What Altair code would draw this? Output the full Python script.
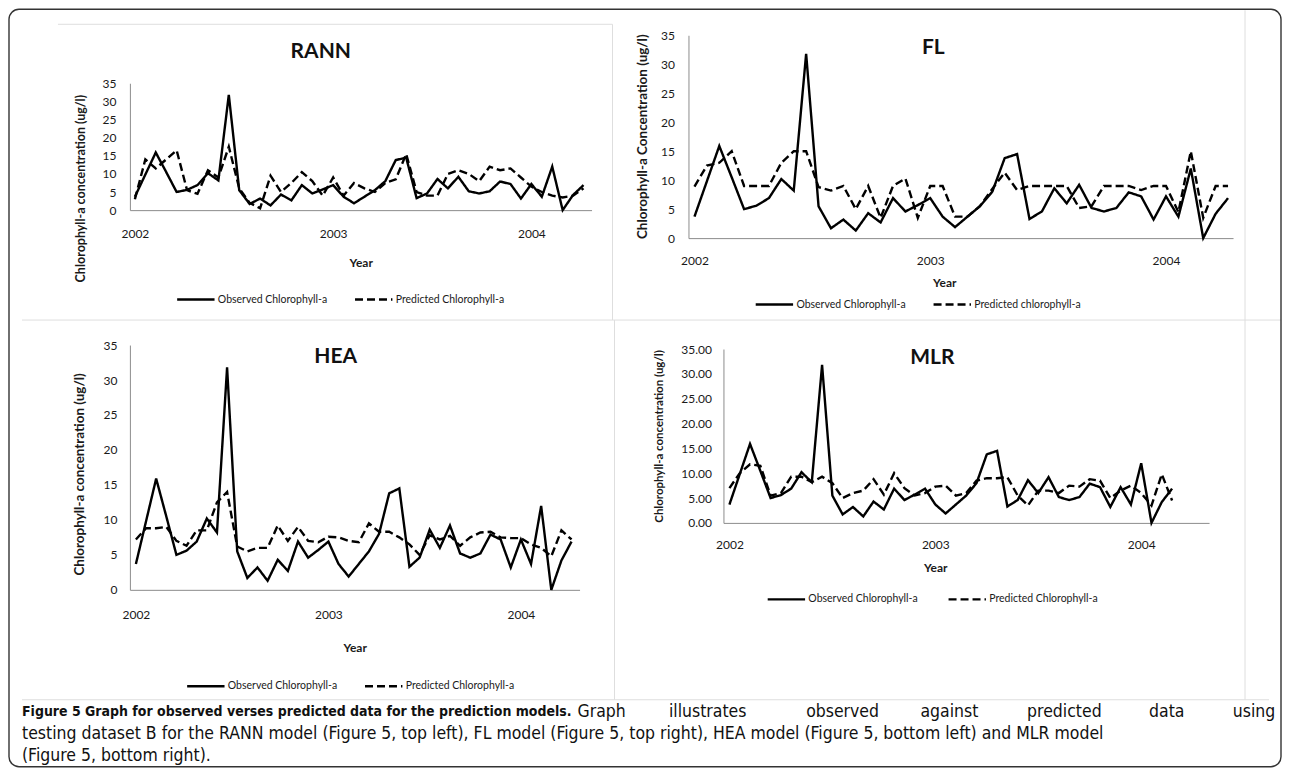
import altair as alt
import pandas as pd

# ---------------- data ----------------
observed = [3.7, 9.8, 15.9, 10.5, 5.0, 5.6, 6.9, 10.2, 8.2, 31.8,
            5.5, 1.7, 3.2, 1.3, 4.3, 2.7, 6.9, 4.6, 5.7, 6.9,
            3.7, 1.9, 3.7, 5.5, 8.0, 13.8, 14.5, 3.3, 4.6, 8.6,
            6.0, 9.2, 5.2, 4.6, 5.2, 7.9, 7.2, 3.2, 7.2, 3.7,
            12.0, 0.0, 4.2, 6.9]

rann_pred = [3.0, 14.0, 11.5, 14.0, 16.5, 5.5, 4.5, 11.0, 9.0, 17.5,
             6.0, 2.0, 0.5, 9.5, 5.0, 7.5, 10.5, 8.0, 4.0, 9.0,
             4.0, 7.5, 6.0, 5.0, 7.5, 8.5, 15.5, 5.0, 4.0, 4.0,
             10.0, 11.0, 10.0, 8.0, 12.0, 11.0, 11.5, 9.0, 6.5, 5.0,
             4.0, 3.5, 4.0, 6.0]

fl_pred = [8.9, 12.5, 13.0, 15.0, 9.0, 9.0, 9.0, 13.0, 15.0, 15.0,
           8.8, 8.2, 9.0, 5.0, 9.0, 3.5, 9.0, 10.3, 3.5, 9.0,
           9.0, 3.7, 3.7, 5.5, 8.5, 11.3, 8.3, 9.0, 9.0, 9.0,
           9.0, 5.2, 5.5, 9.0, 9.0, 9.0, 8.3, 9.0, 9.0, 4.5,
           15.0, 3.5, 9.0, 9.0]

hea_pred = [7.2, 8.8, 8.8, 9.0, 7.0, 6.3, 8.5, 8.5, 12.5, 14.0,
            6.2, 5.5, 6.0, 6.0, 9.2, 7.0, 9.0, 7.0, 6.8, 7.6,
            7.5, 7.0, 6.8, 9.5, 8.3, 8.3, 7.5, 6.5, 5.0, 7.8,
            7.2, 7.7, 6.3, 7.5, 8.2, 8.3, 7.5, 7.4, 7.4, 6.5,
            6.0, 4.8, 8.5, 7.2]

mlr_pred = [7.0, 10.0, 11.8, 11.5, 5.5, 6.0, 9.3, 9.3, 8.2, 9.3,
            8.0, 5.0, 6.0, 6.5, 8.8, 5.7, 10.0, 7.0, 5.5, 6.0,
            7.3, 7.5, 5.5, 6.0, 8.5, 9.0, 9.0, 9.2, 5.5, 3.5,
            6.5, 6.5, 6.0, 7.5, 7.3, 8.8, 8.5, 5.0, 6.5, 7.5,
            6.0, 3.5, 9.8, 4.5]

year_labels = ["2002", "2003", "2004"]
y_ticks = [0, 5, 10, 15, 20, 25, 30, 35]

caption_bold = "Figure 5 Graph for observed verses predicted data for the prediction models."
caption_reg1_words = ["Graph", "illustrates", "observed", "against", "predicted", "data", "using"]
caption_line2 = ("testing dataset B for the RANN model (Figure 5, top left), FL model (Figure 5, top right), "
                 "HEA model (Figure 5, bottom left) and MLR model")
caption_line3 = "(Figure 5, bottom right)."

FONT = "Lato"
CAP_FONT = "Liberation Sans Narrow, DejaVu Sans Condensed, Lato"
INK = "#1a1a1a"
AXIS_GRAY = "#8c8c8c"
SYM = 1400  # legend symbol area -> 37 px wide stroke sample


def panel(p):
    n = len(observed)
    k = list(range(n))
    df = pd.DataFrame({
        "k": k + k,
        "value": observed + p["pred"],
        "series": [p["obs_label"]] * n + [p["pred_label"]] * n,
    })
    ox, oy = p["origin"]
    w, h = p["size"]
    ax = p["axis_x"] - ox
    aend = p["axis_end"] - ox
    k0 = p["k0"] - ox
    kN = p["kN"] - ox
    y0 = p["y0"] - oy
    y35 = p["y35"] - oy
    step = (kN - k0) / (n - 1)
    dmin = (ax - k0) / step
    dmax = (n - 1) + (aend - kN) / step
    expr = " : ".join(f"datum.value == {t} ? '{lab}'" for t, lab in zip(p["ticks"], year_labels)) + " : ''"
    half = SYM ** 0.5 / 2

    lines = alt.Chart(df).mark_line(color="black", strokeWidth=2.4).encode(
        x=alt.X("k:Q",
                scale=alt.Scale(domain=[dmin, dmax], range=[ax, aend], nice=False, zero=False),
                axis=alt.Axis(values=p["ticks"], labelExpr=expr, title="Year", offset=y0 - h,
                              grid=False, ticks=False, tickSize=0, domainColor=AXIS_GRAY,
                              labelPadding=p["xlab_pad"],
                              titleX=p["year_xy"][0] - ox, titleY=p["year_xy"][1] - p["y0"],
                              titleBaseline="middle", titleAlign="center",
                              labelFont=FONT, labelFontSize=12, labelColor=INK, labelFlush=False,
                              titleFont=FONT, titleFontSize=12, titleFontWeight="bold", titleColor=INK)),
        y=alt.Y("value:Q",
                scale=alt.Scale(domain=[0, 35], range=[y0, y35], nice=False, zero=False),
                axis=alt.Axis(values=y_ticks, format=p["yfmt"], title=p["ytitle"], offset=-ax,
                              grid=False, ticks=False, tickSize=0, domainColor=AXIS_GRAY,
                              labelPadding=p["ylab_pad"],
                              titleX=p["ytitle_xy"][0] - p["axis_x"], titleY=p["ytitle_xy"][1] - oy,
                              titleAngle=270, titleBaseline="middle", titleAlign="center",
                              labelFont=FONT, labelFontSize=12, labelColor=INK,
                              titleFont=FONT, titleFontSize=p["ytitle_size"], titleFontWeight="bold",
                              titleColor=INK)),
        strokeDash=alt.StrokeDash("series:N",
                                  scale=alt.Scale(domain=[p["obs_label"], p["pred_label"]],
                                                  range=[[1, 0], [8, 4]]),
                                  legend=alt.Legend(orient="none", legendX=p["leg"][0] - ox,
                                                    legendY=p["leg"][1] - oy - half, direction="horizontal",
                                                    title=None, symbolType="stroke", symbolStrokeWidth=2.5,
                                                    symbolSize=SYM, symbolStrokeColor="black",
                                                    labelFont=FONT, labelFontSize=10.5, labelColor=INK,
                                                    columnPadding=22, labelOffset=2, padding=0)),
    )
    title = alt.Chart(pd.DataFrame({"t": [p["name"]]})).mark_text(
        font=FONT, fontWeight="bold", fontSize=21, align="center", baseline="middle", color="#111"
    ).encode(text="t:N", x=alt.value(p["title_xy"][0] - ox), y=alt.value(p["title_xy"][1] - oy))
    return alt.layer(lines, title).properties(width=w, height=h)


panels = [
    dict(name="RANN", pred=rann_pred, obs_label="Observed Chlorophyll-a", pred_label="Predicted Chlorophyll-a",
         ytitle="Chlorophyll-a concentration  (ug/l)", ytitle_size=12.5, origin=(8, 8), size=(617, 312),
         axis_x=130, axis_end=592, k0=135, kN=584, y0=210, y35=83, ticks=[0, 19, 38], yfmt="d",
         xlab_pad=18, ylab_pad=14, year_xy=(361, 262), ytitle_xy=(81, 188),
         leg=(176, 298), title_xy=(321, 52)),
    dict(name="FL", pred=fl_pred, obs_label="Observed Chlorophyll-a", pred_label="Predicted chlorophyll-a",
         ytitle="Chlorophyll-a Concentration (ug/l)", ytitle_size=13.5, origin=(625, 8), size=(657, 312),
         axis_x=689, axis_end=1234, k0=695, kN=1229, y0=238, y35=35, ticks=[0, 19, 38], yfmt="d",
         xlab_pad=17, ylab_pad=14, year_xy=(945, 282), ytitle_xy=(643, 136),
         leg=(755, 303), title_xy=(934, 48)),
    dict(name="HEA", pred=hea_pred, obs_label="Observed Chlorophyll-a", pred_label="Predicted Chlorophyll-a",
         ytitle="Chlorophyll-a concentration  (ug/l)", ytitle_size=13.5, origin=(8, 320), size=(617, 380),
         axis_x=130, axis_end=580, k0=136, kN=572, y0=590, y35=345, ticks=[0, 19, 38], yfmt="d",
         xlab_pad=20, ylab_pad=13, year_xy=(355, 648), ytitle_xy=(80, 474),
         leg=(186, 685), title_xy=(336, 357)),
    dict(name="MLR", pred=mlr_pred, obs_label="Observed  Chlorophyll-a", pred_label="Predicted Chlorophyll-a",
         ytitle="Chlorophyll-a concentration (ug/l)", ytitle_size=11.5, origin=(625, 320), size=(657, 380),
         axis_x=724, axis_end=1210, k0=730, kN=1173, y0=523, y35=349, ticks=[0, 20, 40], yfmt=".2f",
         xlab_pad=17, ylab_pad=12, year_xy=(936, 568), ytitle_xy=(660, 436),
         leg=(767, 598), title_xy=(933, 358)),
]

charts = [panel(p) for p in panels]

# ---------------- caption + frame ----------------
CAP_ORIGIN = (8, 700)
one = pd.DataFrame({"a": [0]})


def txt(s, x, y, weight="normal", size=17.5, align="left"):
    return alt.Chart(pd.DataFrame({"t": [s]})).mark_text(
        font=CAP_FONT, fontSize=size, fontWeight=weight, align=align, baseline="middle", color="#111"
    ).encode(text="t:N", x=alt.value(x - CAP_ORIGIN[0]), y=alt.value(y - CAP_ORIGIN[1]))


def rule(x1, y1, x2, y2, color="#dedede", width=1):
    return alt.Chart(one).mark_rule(color=color, strokeWidth=width).encode(
        x=alt.value(x1 - CAP_ORIGIN[0]), x2=alt.value(x2 - CAP_ORIGIN[0]),
        y=alt.value(y1 - CAP_ORIGIN[1]), y2=alt.value(y2 - CAP_ORIGIN[1]))


border = alt.Chart(one).mark_rect(fillOpacity=0, stroke="#333333", strokeWidth=1.4, cornerRadius=10).encode(
    x=alt.value(9 - CAP_ORIGIN[0]), x2=alt.value(1282 - CAP_ORIGIN[0]),
    y=alt.value(9 - CAP_ORIGIN[1]), y2=alt.value(767 - CAP_ORIGIN[1]))

# justified first caption line: spread the regular words between x=578 and x=1272
CHAR_W = 7.65
start, end = 578, 1272
widths = [len(wd) * CHAR_W for wd in caption_reg1_words]
gap = (end - start - sum(widths)) / (len(caption_reg1_words) - 1)
word_layers = []
xpos = start
for wd, wdw in zip(caption_reg1_words, widths):
    word_layers.append(txt(wd, xpos, 712))
    xpos += wdw + gap

caption = alt.layer(
    rule(58, 24, 613, 24), rule(613, 24, 613, 320), rule(22, 320, 1282, 320),
    rule(615, 320, 615, 700), rule(1246, 10, 1246, 700), rule(22, 700, 1270, 700),
    txt(caption_bold, 22, 712, "bold", 14),
    *word_layers,
    txt(caption_line2, 22, 734),
    txt(caption_line3, 22, 756),
    border,
).properties(width=617, height=68)

chart = alt.concat(charts[0], charts[1], charts[2], charts[3], caption,
                   columns=2, spacing=0, bounds="flush").resolve_scale(
    x="independent", y="independent", strokeDash="independent"
).resolve_legend(strokeDash="independent").properties(padding=0).configure_view(stroke=None)

chart.save("out.html", embed_options={"renderer": "svg", "actions": False})
